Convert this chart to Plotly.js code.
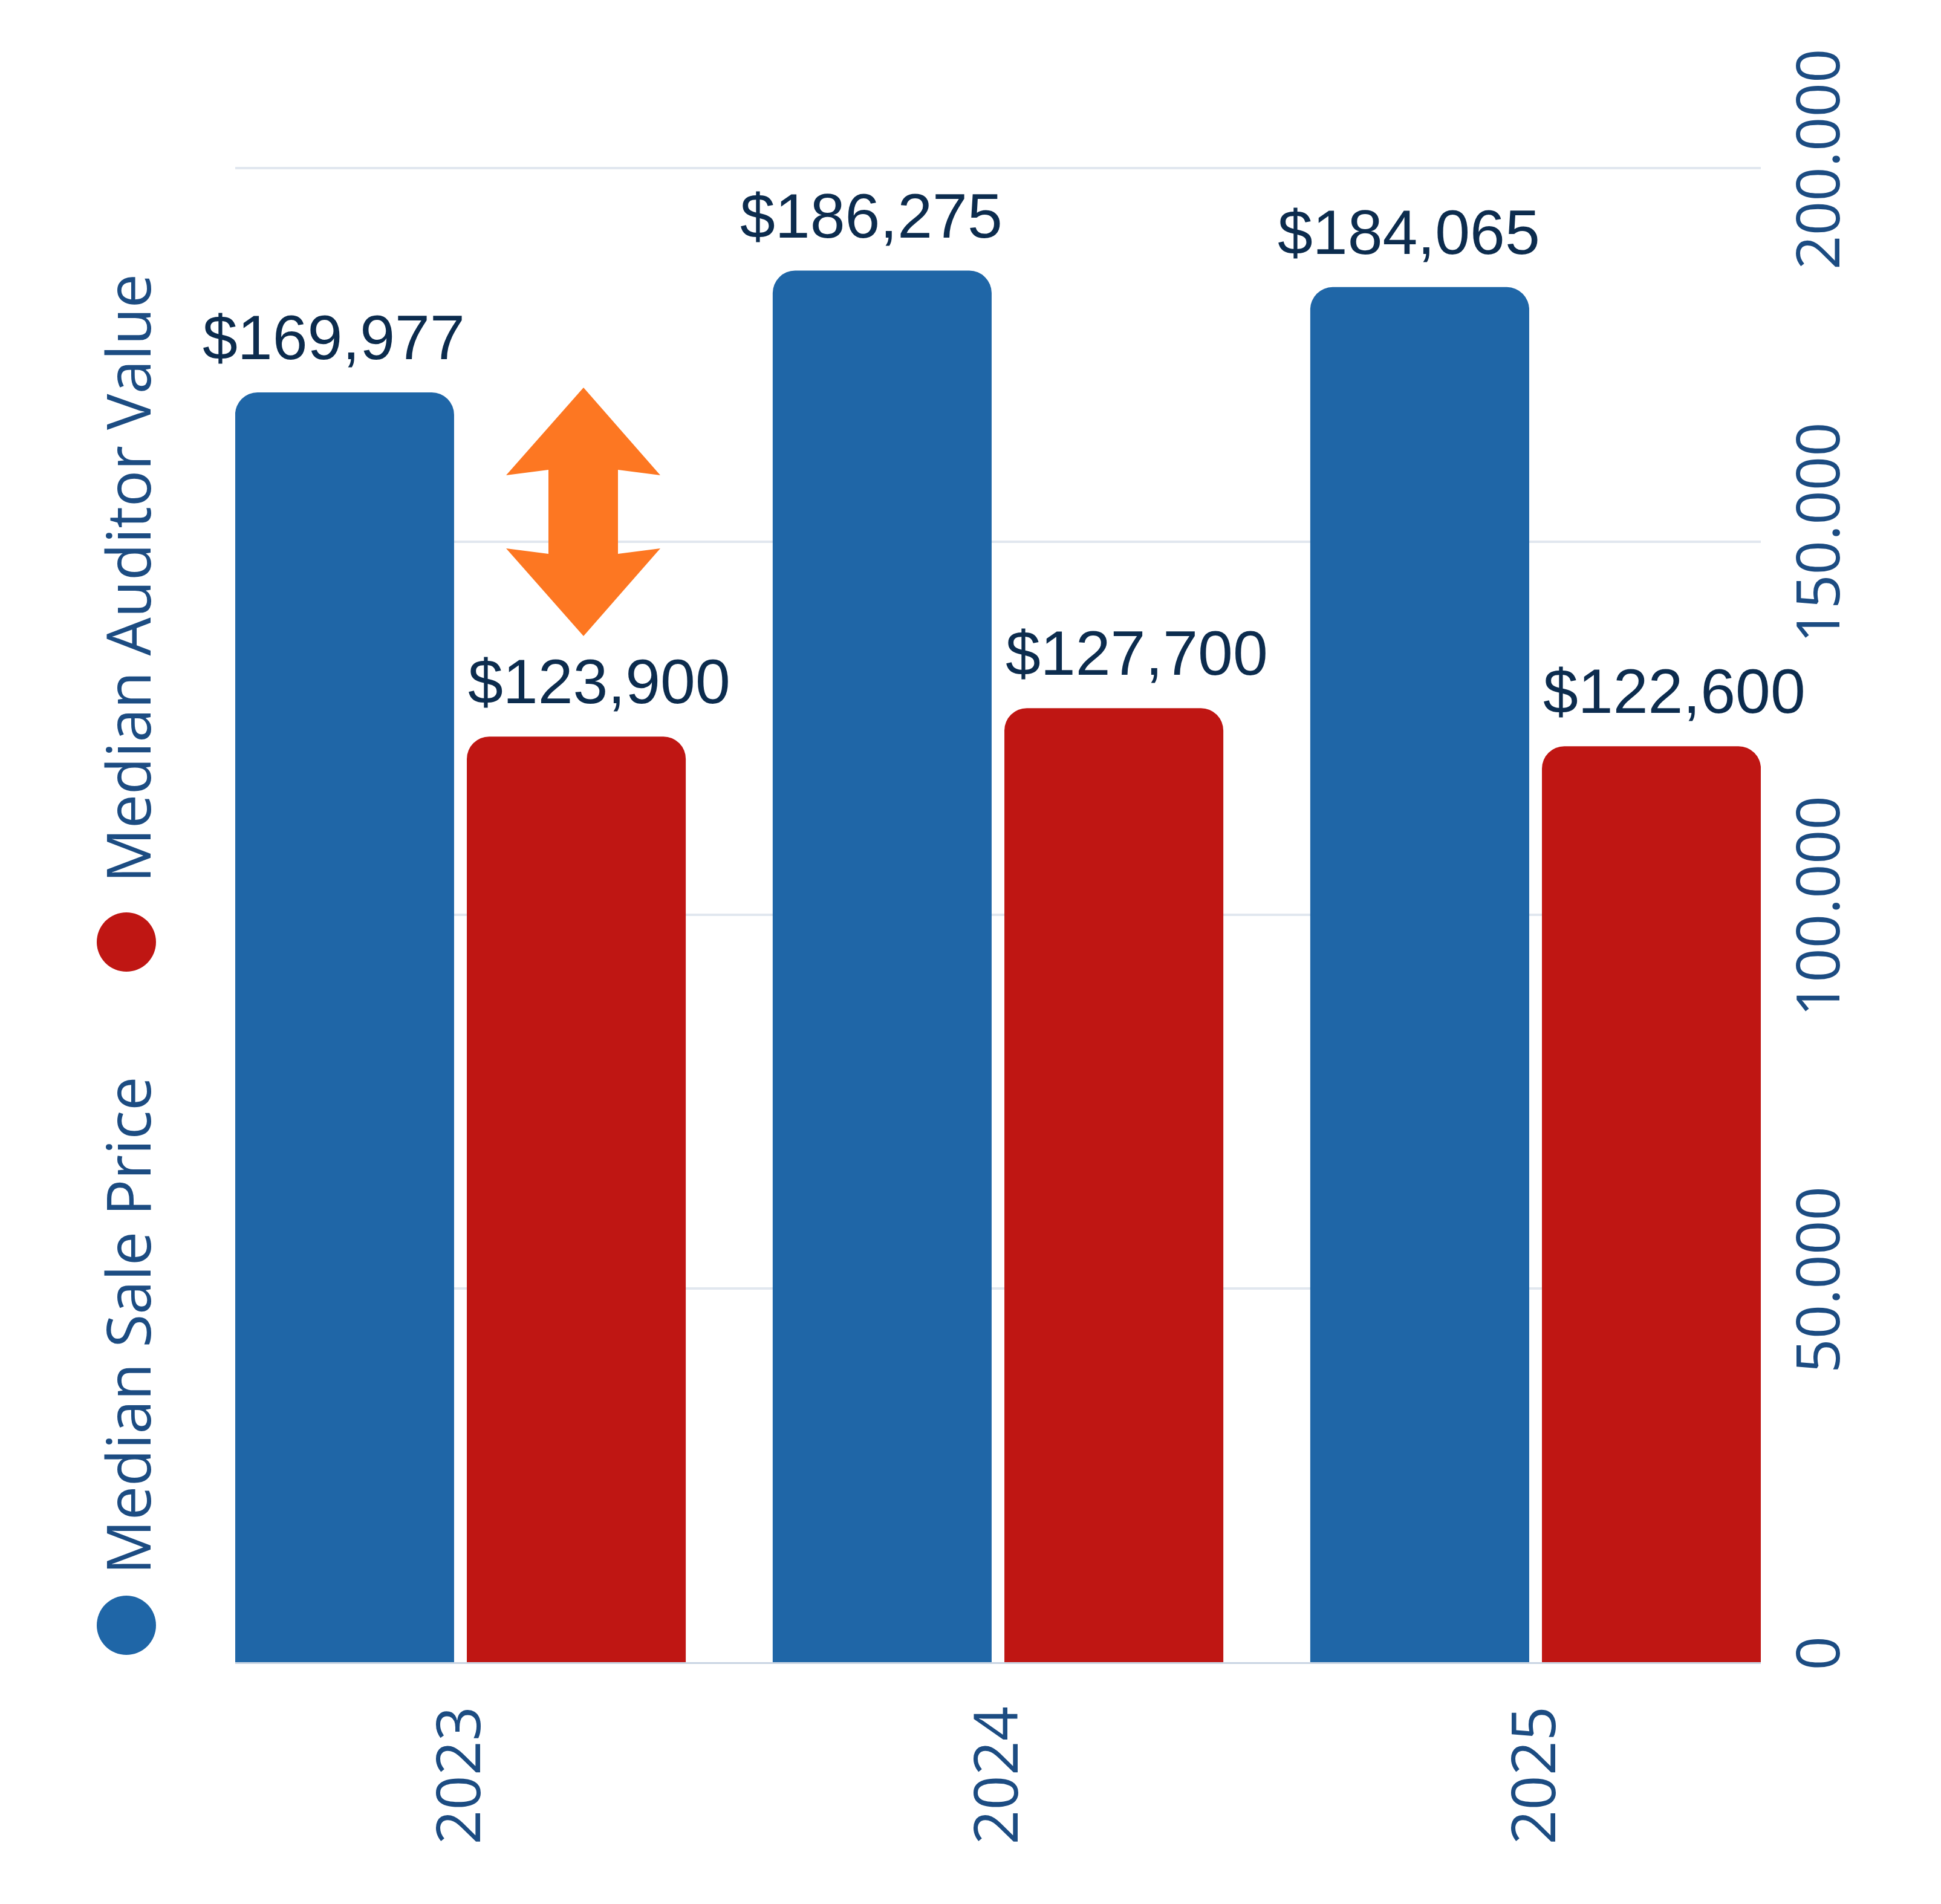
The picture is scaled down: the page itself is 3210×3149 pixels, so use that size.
<!DOCTYPE html>
<html>
<head>
<meta charset="utf-8">
<script src="https://cdn.plot.ly/plotly-3.0.1.min.js"></script>
<style>
  html, body { margin: 0; padding: 0; background: #ffffff; }
  #chart { width: 3210px; height: 3149px; }
</style>
</head>
<body>
<div id="chart"></div>
<script>
// ---- data ----
const years = ['2023', '2024', '2025'];
const salePrice = [169977, 186275, 184065];
const auditorValue = [123900, 127700, 122600];
const seriesNames = ['Median Sale Price', 'Median Auditor Value'];
const yTickVals = [0, 50000, 100000, 150000, 200000];

// ---- style / layout constants ----
const W = 3210, H = 3149;
const M = { l: 389, r: 298, t: 275, b: 400 };
const plotW = W - M.l - M.r, plotH = H - M.t - M.b;
const BLUE = '#1f66a7', RED = '#bf1613', ORANGE = '#fd7722';
const LABEL_COLOR = '#0c2c4e', AXIS_COLOR = '#1c4c82';
const BARGAP = 0.138, GROUPGAP = 0.055;
const slotHalf = (1 - BARGAP) / 4;

function fmt(v) { return '$' + v.toLocaleString('en-US'); }
function px2paperX(x) { return (x - M.l) / plotW; }
function px2paperY(y) { return (H - M.b - y) / plotH; }

const traces = [
  { type: 'bar', name: seriesNames[0], x: years, y: salePrice,
    marker: { color: BLUE, cornerradius: 37, line: { width: 0 } }, hoverinfo: 'skip' },
  { type: 'bar', name: seriesNames[1], x: years, y: auditorValue,
    marker: { color: RED, cornerradius: 37, line: { width: 0 } }, hoverinfo: 'skip' }
];

const annotations = [];
const labelFont = { family: 'Liberation Sans, Arial, sans-serif', size: 104, color: LABEL_COLOR };
years.forEach((yr, i) => {
  annotations.push({ xref: 'x', yref: 'y', x: i - slotHalf, y: salePrice[i], text: fmt(salePrice[i]),
    showarrow: false, xanchor: 'center', yanchor: 'bottom', xshift: -18, yshift: 31, font: labelFont });
  annotations.push({ xref: 'x', yref: 'y', x: i + slotHalf, y: auditorValue[i], text: fmt(auditorValue[i]),
    showarrow: false, xanchor: 'center', yanchor: 'bottom', xshift: 38, yshift: 31, font: labelFont });
});

// rotated legend
const legendFont = { family: 'Open Sans, sans-serif', size: 100, color: AXIS_COLOR };
annotations.push({ xref: 'paper', yref: 'paper', x: px2paperX(210), y: px2paperY(2192), text: seriesNames[0],
  textangle: -90, showarrow: false, xanchor: 'center', yanchor: 'middle', font: legendFont });
annotations.push({ xref: 'paper', yref: 'paper', x: px2paperX(210), y: px2paperY(957), text: seriesNames[1],
  textangle: -90, showarrow: false, xanchor: 'center', yanchor: 'middle', font: legendFont });

const shapes = [];
function dot(cx, cy, color) {
  return { type: 'circle', xref: 'paper', yref: 'paper', xsizemode: 'pixel', ysizemode: 'pixel',
    xanchor: px2paperX(cx), yanchor: px2paperY(cy), x0: -49, x1: 49, y0: -49, y1: 49,
    fillcolor: color, line: { width: 0 } };
}
shapes.push(dot(209, 2688, BLUE));
shapes.push(dot(209, 1558, RED));

// orange double-headed arrow (decoration)
const arrowPts = [[965, 641], [1092, 786], [1022, 777], [1022, 916], [1092, 907],
  [965, 1052], [837, 907], [907, 916], [907, 777], [837, 786]];
const arrowPath = arrowPts.map((p, k) => (k ? 'L' : 'M') + px2paperX(p[0]).toFixed(5) + ',' + px2paperY(p[1]).toFixed(5)).join(' ') + ' Z';
shapes.push({ type: 'path', xref: 'paper', yref: 'paper', path: arrowPath, fillcolor: ORANGE,
  line: { width: 0 }, layer: 'above' });

const layout = {
  width: W, height: H,
  margin: M,
  paper_bgcolor: '#ffffff', plot_bgcolor: '#ffffff',
  showlegend: false,
  barmode: 'group', bargap: BARGAP, bargroupgap: GROUPGAP,
  separators: ',.',
  xaxis: {
    type: 'category', categoryorder: 'array', categoryarray: years,
    range: [-0.419, 2.419], tickangle: -90, ticks: '', ticklabelstandoff: 30,
    tickfont: { family: 'Open Sans, sans-serif', size: 100, color: AXIS_COLOR },
    showgrid: false, showline: true, linecolor: '#c9d5e3', linewidth: 3, zeroline: false, fixedrange: true
  },
  yaxis: {
    side: 'right', range: [0, 200240], tickvals: yTickVals, tickformat: ',.0f',
    tickangle: -90, ticks: '', ticklabelstandoff: 30,
    tickfont: { family: 'Open Sans, sans-serif', size: 99, color: AXIS_COLOR },
    showgrid: true, gridcolor: '#e1e7ef', gridwidth: 4, zeroline: false, showline: false, fixedrange: true
  },
  annotations: annotations,
  shapes: shapes
};

Plotly.newPlot('chart', traces, layout, { displayModeBar: false, staticPlot: true });
</script>
</body>
</html>
